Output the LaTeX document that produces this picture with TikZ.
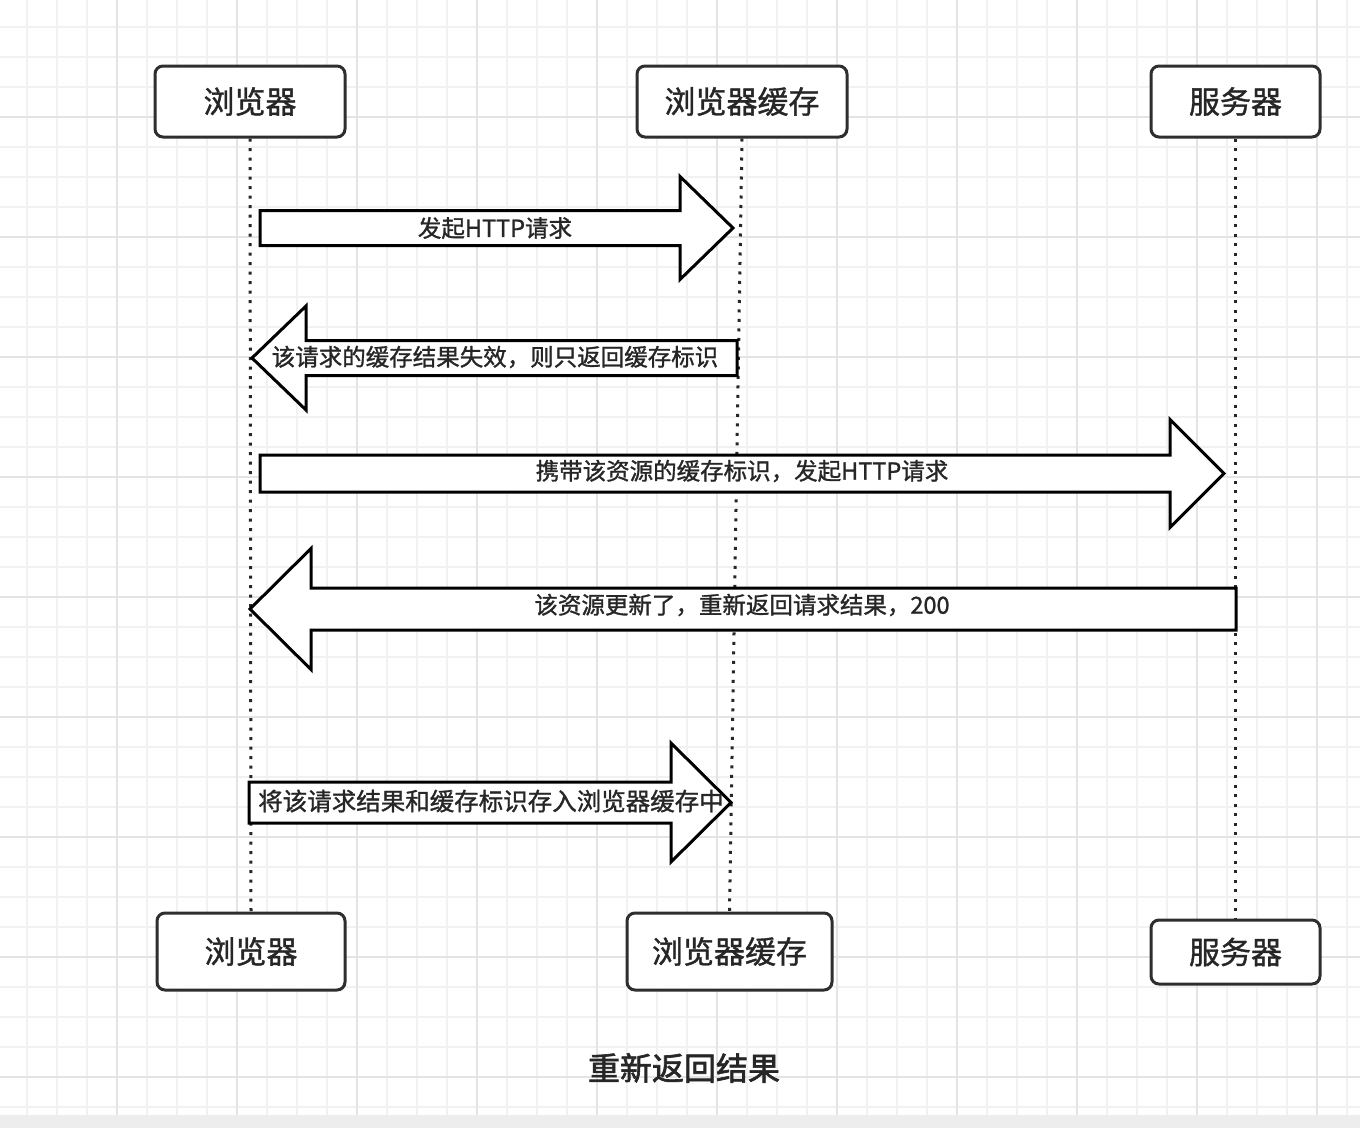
\documentclass[tikz,border=0pt]{standalone}
\usepackage{fontspec}
\setmainfont{Noto Sans CJK SC}
\newfontfamily\medfont[FakeBold=1.2]{Noto Sans CJK SC}
\newfontfamily\capfont[FakeBold=2]{Noto Sans CJK SC}
\definecolor{gridminor}{HTML}{F1F1F1}
\definecolor{gridmajor}{HTML}{E4E4E4}
\definecolor{boxline}{HTML}{2E2E2E}
\definecolor{txt}{HTML}{262626}
\tikzset{
  actor/.style={draw=boxline, line width=3pt, rounded corners=8pt, fill=white,
    text=txt, font=\medfont\fontsize{31}{34}\selectfont, inner sep=0pt},
  lifeline/.style={line width=3pt, dash pattern=on 3pt off 6.5pt, draw=black!85},
  blockarrow/.style={draw=black, line width=3pt, fill=white, line join=miter},
  arrowtext/.style={text=txt, font=\medfont\fontsize{23.5}{26}\selectfont, inner sep=0pt},
}
\begin{document}
\begin{tikzpicture}[x=1pt, y=-1pt]
\useasboundingbox (0,0) rectangle (1360,1128);
\fill[white] (0,0) rectangle (1360,1128);
% grid
\foreach \g in {27,57,...,1357} {\draw[gridminor, line width=1.2pt] (\g,0) -- (\g,1115);}
\foreach \g in {27,57,...,1115} {\draw[gridminor, line width=1.2pt] (0,\g) -- (1360,\g);}
\foreach \g in {117,237,...,1357} {\draw[gridmajor, line width=1.5pt] (\g,0) -- (\g,1115);}
\foreach \g in {117,237,...,1115} {\draw[gridmajor, line width=1.5pt] (0,\g) -- (1360,\g);}
\fill[black!7] (0,1115) rectangle (1360,1128);

% actors
\node[actor, minimum width=190pt, minimum height=71pt] (b1) at (250,101.5) {浏览器};
\node[actor, minimum width=210pt, minimum height=71pt] (c1) at (742,101.5) {浏览器缓存};
\node[actor, minimum width=169pt, minimum height=71pt] (s1) at (1235.5,101.5) {服务器};
\node[actor, minimum width=188pt, minimum height=77pt] (b2) at (251,951.5) {浏览器};
\node[actor, minimum width=205pt, minimum height=77pt] (c2) at (729.5,951.5) {浏览器缓存};
\node[actor, minimum width=169pt, minimum height=64pt] (s2) at (1235.5,952) {服务器};

% lifelines
\draw[lifeline] (b1.south) -- (b2.north);
\draw[lifeline] (c1.south) -- (c2.north);
\draw[lifeline] (s1.south) -- (s2.north);

% block arrows
\draw[blockarrow] (260,210.5) -- (680,210.5) -- (680,176.5) -- (733,228) -- (680,279.5) -- (680,245.5) -- (260,245.5) -- cycle;
\node[arrowtext] (m1) at (495,228) {发起HTTP请求};

\draw[blockarrow] (737,340.5) -- (306,340.5) -- (306,306) -- (252,358) -- (306,410) -- (306,375.5) -- (737,375.5) -- cycle;
\node[arrowtext] (m2) at (495,357) {该请求的缓存结果失效，则只返回缓存标识};

\draw[blockarrow] (260,455) -- (1170,455) -- (1170,419.5) -- (1224,473.5) -- (1170,527.5) -- (1170,492) -- (260,492) -- cycle;
\node[arrowtext] (m3) at (742,471) {携带该资源的缓存标识，发起HTTP请求};

\draw[blockarrow] (1236,588) -- (311,588) -- (311,548.5) -- (250,609) -- (311,669.5) -- (311,630) -- (1236,630) -- cycle;
\node[arrowtext] (m4) at (742,605) {该资源更新了，重新返回请求结果，200};

\draw[blockarrow] (249,782) -- (671,782) -- (671,743) -- (731,802.5) -- (671,862) -- (671,823) -- (249,823) -- cycle;
\node[arrowtext, font=\medfont\fontsize{24.5}{27}\selectfont] (m5) at (491,801) {将该请求结果和缓存标识存入浏览器缓存中};

% caption
\node[text=txt, font=\capfont\fontsize{32}{35}\selectfont, inner sep=0pt] (cap) at (684,1068) {重新返回结果};
\end{tikzpicture}
\end{document}
